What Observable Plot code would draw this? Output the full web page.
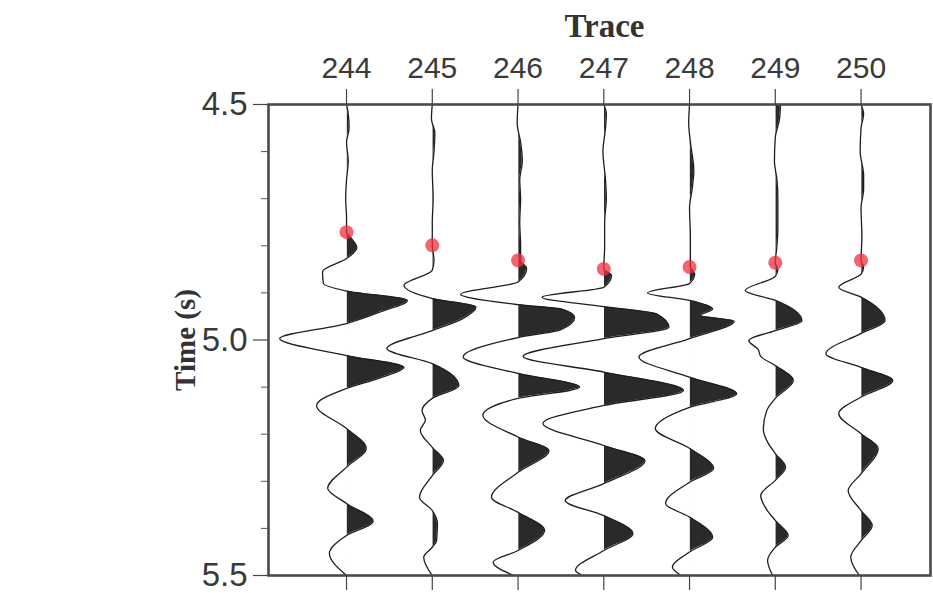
<!DOCTYPE html>
<html>
<head>
<meta charset="utf-8">
<script src="https://cdn.jsdelivr.net/npm/d3@7"></script>
<script src="https://cdn.jsdelivr.net/npm/@observablehq/plot@0.6"></script>
<style>
  body { margin: 0; background: #fff; }
  #chart svg { display: block; }
</style>
</head>
<body>
<div id="chart"></div>
<script>
// Trace numbers and first-arrival picks (s)
const traces = [244, 245, 246, 247, 248, 249, 250];
const picks = [4.771, 4.799, 4.831, 4.849, 4.845, 4.836, 4.831];
const timeTicksMajor = [4.5, 5.0, 5.5];
const timeTicksMinor = [4.6, 4.7, 4.8, 4.9, 5.1, 5.2, 5.3, 5.4];

// [time (s), amplitude in units of trace spacing]
const trace244 = [[4.50,0],[4.52,0.02],[4.55,0.03],[4.58,0],[4.62,0.02],[4.66,0],[4.70,-0.01],[4.74,0],[4.771,0],[4.785,0.06],[4.804,0.12],[4.827,0],[4.855,-0.28],[4.88,-0.27],[4.896,0],[4.916,0.71],[4.94,0.40],[4.965,0],[4.997,-0.78],[5.033,0],[5.058,0.67],[5.08,0.40],[5.103,0],[5.139,-0.35],[5.188,0],[5.230,0.23],[5.270,0],[5.315,-0.22],[5.347,0],[5.385,0.31],[5.415,0],[5.453,-0.20],[5.50,0]];
const trace245 = [[4.50,0],[4.53,-0.01],[4.56,0.03],[4.60,0.02],[4.64,0],[4.70,0.01],[4.75,0],[4.799,0],[4.83,0.02],[4.852,0],[4.884,-0.33],[4.912,0],[4.930,0.51],[4.955,0.35],[4.980,0],[5.018,-0.53],[5.050,0],[5.097,0.31],[5.124,0],[5.150,-0.12],[5.170,-0.08],[5.192,-0.14],[5.228,0],[5.256,0.13],[5.288,0],[5.334,-0.15],[5.362,0],[5.39,0.06],[5.426,0.05],[5.44,0],[5.461,-0.10],[5.50,0]];
const trace246 = [[4.50,0],[4.54,-0.01],[4.58,0.03],[4.62,0.05],[4.66,0.02],[4.70,0.03],[4.75,0.02],[4.80,0.03],[4.831,0.03],[4.848,0.10],[4.877,0],[4.903,-0.67],[4.925,0],[4.935,0.52],[4.952,0.66],[4.978,0.50],[4.995,0],[5.036,-0.64],[5.071,0],[5.100,0.72],[5.124,0],[5.160,-0.41],[5.206,0],[5.235,0.36],[5.281,0],[5.334,-0.31],[5.366,0],[5.404,0.31],[5.447,0],[5.472,-0.29],[5.50,-0.05]];
const trace247 = [[4.50,0],[4.52,0.03],[4.55,0.02],[4.60,-0.01],[4.66,0.02],[4.70,0.03],[4.75,0.01],[4.80,0.01],[4.849,0],[4.863,0.09],[4.888,0],[4.909,-0.72],[4.929,0],[4.945,0.62],[4.973,0.76],[4.997,0],[5.035,-0.94],[5.068,0],[5.107,0.93],[5.139,0],[5.177,-0.71],[5.224,0],[5.256,0.48],[5.305,0],[5.341,-0.45],[5.373,0],[5.411,0.34],[5.447,0],[5.489,-0.33],[5.50,-0.25]];
const trace248 = [[4.50,0],[4.54,-0.01],[4.58,0.01],[4.64,0.05],[4.68,0.03],[4.72,0],[4.78,0.01],[4.845,0.01],[4.86,0.06],[4.88,0],[4.900,-0.49],[4.916,0],[4.934,0.27],[4.948,0.13],[4.960,0.52],[4.997,0],[5.036,-0.59],[5.079,0],[5.114,0.55],[5.143,0],[5.188,-0.40],[5.230,0],[5.273,0.28],[5.302,0],[5.347,-0.28],[5.376,0],[5.419,0.27],[5.450,0],[5.482,-0.20],[5.50,-0.10]];
const trace249 = [[4.50,0.06],[4.53,0.05],[4.57,0],[4.62,-0.01],[4.66,0.02],[4.70,0.03],[4.76,0.03],[4.80,0.02],[4.836,0],[4.85,0.03],[4.865,0],[4.895,-0.35],[4.916,0],[4.959,0.31],[4.980,0],[5.001,-0.31],[5.02,-0.20],[5.035,-0.17],[5.054,0],[5.086,0.21],[5.124,0],[5.15,-0.10],[5.19,-0.14],[5.22,-0.08],[5.241,0],[5.270,0.12],[5.298,0],[5.330,-0.17],[5.36,-0.10],[5.383,0],[5.415,0.15],[5.440,0],[5.468,-0.09],[5.50,-0.03]];
const trace250 = [[4.50,0],[4.52,0.03],[4.55,0],[4.60,-0.01],[4.65,0.03],[4.68,0.03],[4.72,0],[4.78,0.01],[4.831,0],[4.845,0.03],[4.86,0],[4.888,-0.26],[4.909,0],[4.959,0.28],[4.986,0],[5.029,-0.41],[5.058,0],[5.086,0.37],[5.121,0],[5.156,-0.26],[5.199,0],[5.230,0.20],[5.284,0],[5.320,-0.15],[5.362,0],[5.394,0.13],[5.426,0],[5.461,-0.12],[5.50,-0.02]];

const traceData = [trace244, trace245, trace246, trace247, trace248, trace249, trace250];

const rows = [];
traces.forEach((tr, i) => {
  traceData[i].forEach(([t, a]) => rows.push({trace: tr, t, amp: a, x: tr + a}));
});
const pickRows = traces.map((tr, i) => ({trace: tr, t: picks[i]}));

const sans = "'Liberation Sans', Arial, Helvetica, sans-serif";
const serif = "'Liberation Serif', 'Times New Roman', serif";

const plot = Plot.plot({
  width: 933,
  height: 593,
  marginLeft: 268,
  marginRight: 3,
  marginTop: 104,
  marginBottom: 18,
  style: {fontFamily: sans, background: "#fff", color: "#3a3a3a"},
  x: {domain: [243.09, 250.81]},
  y: {domain: [4.5, 5.5], reverse: true},
  marks: [
    Plot.areaX(rows, {y: "t", x1: "trace", x2: "x", z: "trace", curve: "monotone-y", fill: "#2a2a2a"}),
    Plot.lineX(rows, {y: "t", x: "x", z: "trace", curve: "monotone-y", stroke: "#1e1e1e", strokeWidth: 1.3}),
    Plot.dot(pickRows, {x: "trace", y: "t", r: 7, fill: "#f03040", fillOpacity: 0.75}),
    Plot.frame({stroke: "#4a4a4a", strokeWidth: 2.6}),
    Plot.axisX({anchor: "top", ticks: traces, tickFormat: d => String(d), tickSize: 16, tickPadding: 11, fontSize: 30, label: null, stroke: "#444", strokeWidth: 1.2}),
    Plot.axisX({anchor: "bottom", ticks: traces, tickFormat: () => "", tickSize: 15, label: null, stroke: "#444", strokeWidth: 1.2}),
    Plot.axisY({anchor: "left", ticks: timeTicksMinor, tickFormat: () => "", tickSize: 7, label: null, stroke: "#555"}),
    Plot.axisY({anchor: "left", ticks: timeTicksMajor, tickFormat: d3.format(".1f"), tickSize: 15, tickPadding: 6, fontSize: 33, label: null, stroke: "#444", strokeWidth: 1.2}),
    Plot.text(["Trace"], {frameAnchor: "top", text: d => d, dx: 5, dy: -79, fontSize: 33, fontWeight: "bold", fontFamily: serif, fill: "#333"}),
    Plot.text(["Time (s)"], {frameAnchor: "left", text: d => d, dx: -83, rotate: -90, textAnchor: "middle", fontSize: 29, fontWeight: "bold", fontFamily: serif, fill: "#333"})
  ]
});

// Clip each trace's fill to the positive (right) side of its baseline
const xs = plot.scale("x");
const ns = "http://www.w3.org/2000/svg";
const defs = document.createElementNS(ns, "defs");
plot.insertBefore(defs, plot.firstChild);
const areaPaths = plot.querySelectorAll('g[aria-label="area"] path');
areaPaths.forEach((p, i) => {
  const id = "pos-clip-" + traces[i];
  const cp = document.createElementNS(ns, "clipPath");
  cp.setAttribute("id", id);
  const r = document.createElementNS(ns, "rect");
  r.setAttribute("x", xs.apply(traces[i]) + 0.8);
  r.setAttribute("y", 0);
  r.setAttribute("width", 130);
  r.setAttribute("height", 593);
  cp.appendChild(r);
  defs.appendChild(cp);
  p.setAttribute("clip-path", `url(#${id})`);
});

// Move the "Trace" title up to the reference position
const titleText = plot.querySelectorAll('g[aria-label="text"] text')[0];
if (titleText) titleText.setAttribute("dy", "-0.35em");

document.getElementById("chart").appendChild(plot);
</script>
</body>
</html>
